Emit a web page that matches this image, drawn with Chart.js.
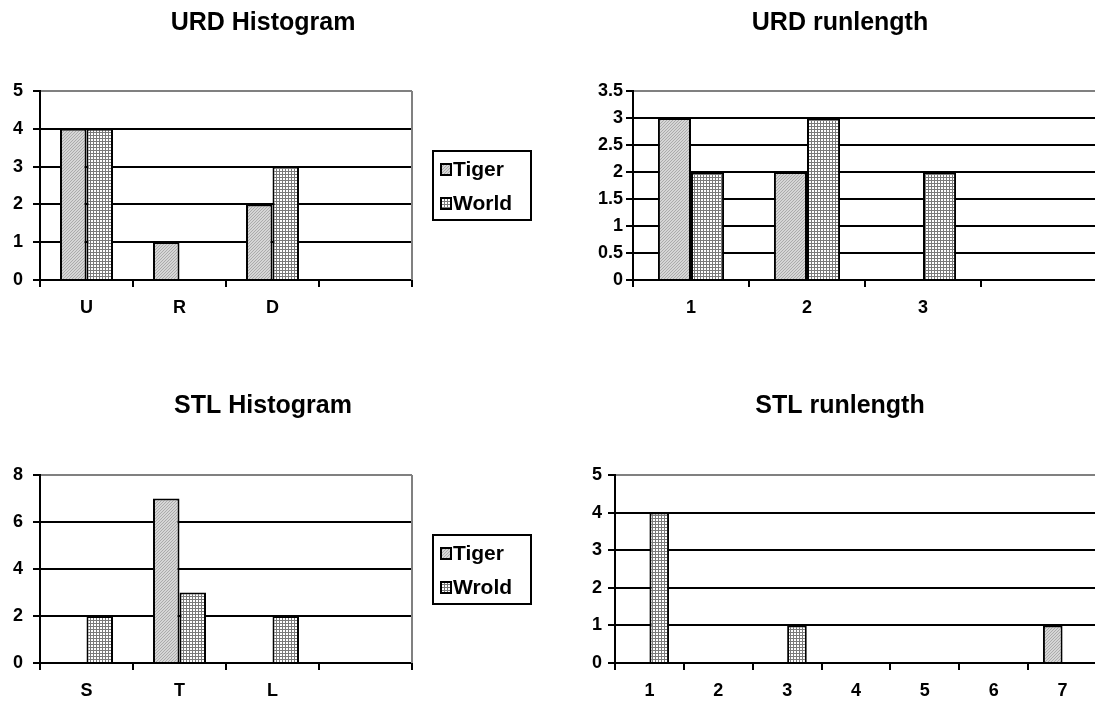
<!DOCTYPE html>
<html>
<head>
<meta charset="utf-8">
<title>URD / STL</title>
<script src="https://cdn.jsdelivr.net/npm/chart.js@4.4.0/dist/chart.umd.min.js"></script>
<style>
    body { margin: 0; background: #fff; width: 1095px; height: 709px; overflow: hidden; position: relative; }
    canvas { position: absolute; }
</style>
</head>
<body>
<canvas id="urdHist" width="560" height="330" style="left:0;top:0"></canvas>
<canvas id="urdRun" width="520" height="330" style="left:580px;top:0"></canvas>
<canvas id="stlHist" width="560" height="330" style="left:0;top:383px"></canvas>
<canvas id="stlRun" width="520" height="330" style="left:580px;top:383px"></canvas>
<script>
// values
const urdHistLabels = ['U', 'R', 'D', ''];
const urdHistTiger = [4, 1, 2, 0];
const urdHistWorld = [4, 0, 3, 0];
const urdHistYTicks = [0, 1, 2, 3, 4, 5];

const urdRunLabels = ['1', '2', '3', ''];
const urdRunTiger = [3, 2, 0, 0];
const urdRunWorld = [2, 3, 2, 0];
const urdRunYTicks = [0, 0.5, 1, 1.5, 2, 2.5, 3, 3.5];

const stlHistLabels = ['S', 'T', 'L', ''];
const stlHistTiger = [0, 7, 0, 0];
const stlHistWrold = [2, 3, 2, 0];
const stlHistYTicks = [0, 2, 4, 6, 8];

const stlRunLabels = ['1', '2', '3', '4', '5', '6', '7'];
const stlRunTiger = [0, 0, 0, 0, 0, 0, 1];
const stlRunWorld = [4, 0, 1, 0, 0, 0, 0];
const stlRunYTicks = [0, 1, 2, 3, 4, 5];

const FONT = "'Liberation Sans', Arial, sans-serif";

// small tiles for the Excel-ish fill patterns
function makePattern(size, draw) {
    const c = document.createElement('canvas');
    c.width = c.height = size;
    const g = c.getContext('2d');
    draw(g, size);
    return g.createPattern(c, 'repeat');
}

const tigerFill = makePattern(3, (g, n) => {
    g.fillStyle = '#d6d6d6';
    g.fillRect(0, 0, n, n);
    g.fillStyle = '#ababab';
    for (let i = 0; i < n; i++) g.fillRect(i, n - 1 - i, 1, 1);
});

const worldFill = makePattern(3, (g, n) => {
    g.fillStyle = '#fff';
    g.fillRect(0, 0, n, n);
    g.fillStyle = '#7a7a7a';
    g.fillRect(0, 0, n, 1);
    g.fillRect(0, 0, 1, n);
});

// gray plot border on the right + boxed legend
const excelFrame = {
    id: 'excelFrame',
    afterLayout(chart, args, opts) {
        if (opts.titleX == null) return;
        const t = chart.titleBlock;
        const half = Math.min(opts.titleX, chart.width - opts.titleX);
        t.left = opts.titleX - half;
        t.right = opts.titleX + half;
        t.width = half * 2;
    },
    beforeDatasetsDraw(chart) {
        const {ctx, chartArea} = chart;
        ctx.save();
        ctx.strokeStyle = '#808080';
        ctx.lineWidth = 2;
        ctx.beginPath();
        ctx.moveTo(chartArea.right, chartArea.top);
        ctx.lineTo(chartArea.right, chartArea.bottom);
        ctx.stroke();
        ctx.restore();
    },
    afterDraw(chart, args, opts) {
        if (!opts.legend) return;
        const {ctx, chartArea} = chart;
        const w = 98, h = 69;
        const x = chartArea.right + 21;
        const y = Math.round((chartArea.top + chartArea.bottom) / 2 - h / 2);
        ctx.save();
        ctx.fillStyle = '#fff';
        ctx.fillRect(x, y, w, h);
        ctx.strokeStyle = '#000';
        ctx.lineWidth = 2;
        ctx.strokeRect(x, y, w, h);
        ctx.font = 'bold 21px ' + FONT;
        ctx.textBaseline = 'middle';
        chart.data.datasets.forEach((ds, i) => {
            const cy = y + 18 + i * 34;
            ctx.fillStyle = ds.backgroundColor;
            ctx.fillRect(x + 8, cy - 5, 10, 11);
            ctx.strokeStyle = '#000';
            ctx.strokeRect(x + 8, cy - 5, 10, 11);
            ctx.fillStyle = '#000';
            ctx.fillText(ds.label, x + 20, cy + 1);
        });
        ctx.restore();
    }
};

function buildExcelBarChart(canvasId, cfg) {
    const yTicks = cfg.yTicks;
    const yMax = yTicks[yTicks.length - 1];
    const bold = size => ({family: FONT, size: size, weight: 'bold'});
    const series = (name, values, fill) => ({
        label: name,
        data: values,
        backgroundColor: fill,
        borderColor: '#000',
        borderWidth: 2,
        barPercentage: 1,
        categoryPercentage: 0.57
    });
    return new Chart(document.getElementById(canvasId), {
        type: 'bar',
        data: {
            labels: cfg.labels,
            datasets: [series(cfg.names[0], cfg.tiger, tigerFill), series(cfg.names[1], cfg.world, worldFill)]
        },
        options: {
            responsive: false,
            animation: false,
            layout: {padding: {left: 0, right: cfg.padRight, top: 0, bottom: 0}},
            plugins: {
                legend: {display: false},
                tooltip: {enabled: false},
                title: {
                    display: true,
                    text: cfg.title,
                    color: '#000',
                    font: bold(25),
                    padding: {top: 8, bottom: cfg.titleGap}
                },
                excelFrame: {legend: cfg.legend, titleX: cfg.titleX}
            },
            scales: {
                x: {
                    grid: {
                        drawOnChartArea: false,
                        drawTicks: true,
                        tickLength: 7,
                        color: '#000',
                        lineWidth: 2
                    },
                    border: {color: '#000', width: 2},
                    ticks: {color: '#000', font: bold(18), padding: 10, maxRotation: 0, autoSkip: false},
                    afterFit(scale) { scale.height = 50; }
                },
                y: {
                    min: 0,
                    max: yMax,
                    ticks: {
                        stepSize: yTicks[1] - yTicks[0],
                        color: '#000',
                        font: bold(18),
                        padding: cfg.yPad,
                        callback: v => String(Math.round(v * 10) / 10)
                    },
                    grid: {
                        color: c => (c.tick && c.tick.value === yMax) ? '#808080' : '#000',
                        tickColor: '#000',
                        lineWidth: 2,
                        tickLength: 7
                    },
                    border: {color: '#000', width: 2},
                    afterFit(scale) { scale.width = cfg.yWidth; }
                }
            }
        },
        plugins: [excelFrame]
    });
}

buildExcelBarChart('urdHist', {
    title: 'URD Histogram', labels: urdHistLabels, tiger: urdHistTiger, world: urdHistWorld,
    names: ['Tiger', 'World'], yTicks: urdHistYTicks, legend: true,
    yWidth: 40, yPad: 10, padRight: 148, titleGap: 53, titleX: 263
});
buildExcelBarChart('urdRun', {
    title: 'URD runlength', labels: urdRunLabels, tiger: urdRunTiger, world: urdRunWorld,
    names: ['Tiger', 'World'], yTicks: urdRunYTicks, legend: false,
    yWidth: 53, yPad: 3, padRight: 3, titleGap: 53, titleX: 260
});
buildExcelBarChart('stlHist', {
    title: 'STL Histogram', labels: stlHistLabels, tiger: stlHistTiger, world: stlHistWrold,
    names: ['Tiger', 'Wrold'], yTicks: stlHistYTicks, legend: true,
    yWidth: 40, yPad: 10, padRight: 148, titleGap: 54, titleX: 263
});
buildExcelBarChart('stlRun', {
    title: 'STL runlength', labels: stlRunLabels, tiger: stlRunTiger, world: stlRunWorld,
    names: ['Tiger', 'World'], yTicks: stlRunYTicks, legend: false,
    yWidth: 35, yPad: 6, padRight: 3, titleGap: 54, titleX: 260
});
</script>
</body>
</html>
